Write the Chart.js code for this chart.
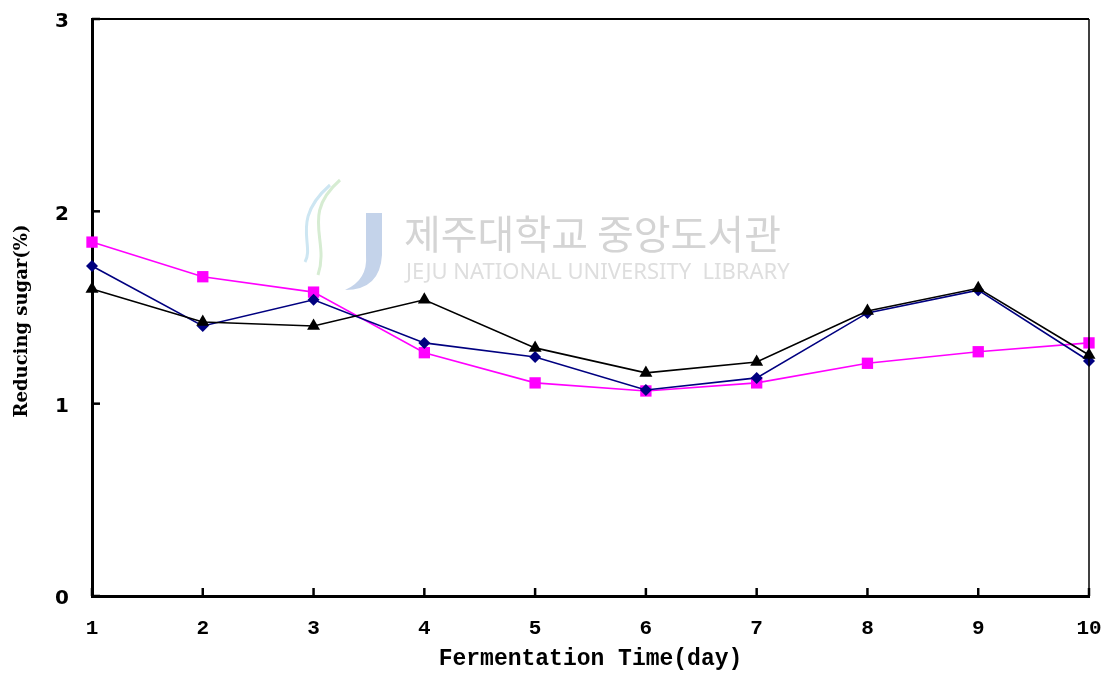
<!DOCTYPE html>
<html><head><meta charset="utf-8">
<script src="https://cdn.jsdelivr.net/npm/chart.js@4"></script>
<style>html,body{margin:0;padding:0;background:#fff}#wrap{width:1106px;height:673px;position:relative}</style>
</head><body><div id="wrap"><canvas id="c" width="1106" height="673"></canvas></div>
<script>
const days = ['1','2','3','4','5','6','7','8','9','10'];
const seriesPink = [1.84,1.66,1.58,1.265,1.108,1.066,1.108,1.21,1.27,1.316];
const seriesBlue = [1.716,1.404,1.54,1.316,1.243,1.071,1.134,1.472,1.59,1.222];
const seriesBlack = [1.596,1.425,1.404,1.54,1.29,1.16,1.217,1.482,1.60,1.253];
const yTicks = [0,1,2,3];
const xTitle = 'Fermentation Time(day)';
const yTitle = 'Reducing sugar(%)';

const frame = {
  id:'frame',
  beforeDatasetsDraw(chart){
    const {ctx} = chart;
    ctx.save();
    ctx.fillStyle = '#d4d4d4';
    ctx.font = '40px "Noto Sans CJK KR"';
    ctx.textBaseline = 'middle';
    ctx.fillText('제주대학교 중앙도서관', 404, 234);
    ctx.fillStyle = '#dedede';
    ctx.font = '22px "Noto Sans"';
    ctx.fillText('JEJU NATIONAL UNIVERSITY  LIBRARY', 406, 273);
    ctx.strokeStyle = '#d6ecd2'; ctx.lineWidth = 3;
    ctx.beginPath(); ctx.moveTo(340,180); ctx.bezierCurveTo(300,215,330,240,318,275); ctx.stroke();
    ctx.strokeStyle = '#cde6f2';
    ctx.beginPath(); ctx.moveTo(330,185); ctx.bezierCurveTo(290,220,315,245,305,262); ctx.stroke();
    ctx.fillStyle = '#c4d3ea';
    ctx.beginPath(); ctx.moveTo(366,213); ctx.lineTo(382,213); ctx.lineTo(382,255);
    ctx.quadraticCurveTo(380,290,345,290); ctx.quadraticCurveTo(368,280,366,255); ctx.closePath(); ctx.fill();
    ctx.save();
    ctx.translate(22, 321);
    ctx.rotate(-Math.PI/2);
    ctx.fillStyle = '#000';
    ctx.font = 'bold 18px "DejaVu Serif"';
    ctx.textAlign = 'center';
    ctx.textBaseline = 'middle';
    ctx.fillText(yTitle, 0, 0);
    ctx.restore();
    ctx.restore();
  },
  afterDraw(chart){
    const {ctx, chartArea:a, scales:{x,y}} = chart;
    ctx.save();
    ctx.strokeStyle = '#000';
    ctx.lineWidth = 2;
    ctx.beginPath(); ctx.moveTo(a.left, a.top); ctx.lineTo(a.right, a.top); ctx.stroke();
    ctx.lineWidth = 1.5;
    ctx.beginPath(); ctx.moveTo(a.right, a.top); ctx.lineTo(a.right, a.bottom); ctx.stroke();
    ctx.lineWidth = 2.5;
    yTicks.forEach(v=>{ const py = y.getPixelForValue(v); ctx.beginPath(); ctx.moveTo(a.left, py); ctx.lineTo(a.left+8, py); ctx.stroke(); });
    days.forEach((d,i)=>{ const px = x.getPixelForValue(i); ctx.beginPath(); ctx.moveTo(px, a.bottom); ctx.lineTo(px, a.bottom-8); ctx.stroke(); });
    ctx.restore();
  }
};

new Chart(document.getElementById('c'), {
  type:'line',
  data:{ labels: days, datasets:[
    {data: seriesBlack, borderColor:'#000', backgroundColor:'#000', borderWidth:1.6, pointStyle:'triangle', pointRadius:7.5, pointBorderWidth:0},
    {data: seriesBlue, borderColor:'#000080', backgroundColor:'#000080', borderWidth:1.6, pointStyle:'rectRot', pointRadius:6, pointBorderWidth:0},
    {data: seriesPink, borderColor:'#ff00ff', backgroundColor:'#ff00ff', borderWidth:1.6, pointStyle:'rect', pointRadius:8, pointBorderWidth:0}
  ]},
  options:{
    responsive:false, animation:false, devicePixelRatio:1,
    layout:{padding:{left:0,right:17,top:19,bottom:0}},
    plugins:{legend:{display:false}, tooltip:{enabled:false}},
    elements:{line:{tension:0}},
    scales:{
      x:{
        offset:false,
        grid:{display:false, drawTicks:false},
        border:{display:true, color:'#000', width:3},
        ticks:{color:'#000', padding:20, font:{family:'"Liberation Mono"', weight:'bold', size:21}, maxRotation:0},
        title:{display:true, text:xTitle, color:'#000', font:{family:'"Liberation Mono"', weight:'bold', size:23}, padding:{top:0,bottom:0}},
        afterFit(s){ s.height = 77; s.paddingLeft = 0; s.paddingRight = 0; }
      },
      y:{
        min:0, max:3,
        afterBuildTicks(s){ s.ticks = yTicks.map(v=>({value:v})); },
        grid:{display:false, drawTicks:false},
        border:{display:true, color:'#000', width:3},
        ticks:{color:'#000', padding:23, labelOffset:3, font:{family:'"DejaVu Sans"', weight:'bold', size:20}},
        title:{display:false},
        afterFit(s){ s.width = 92; s.paddingTop = 0; s.paddingBottom = 0; }
      }
    }
  },
  plugins:[frame]
});
</script></body></html>
